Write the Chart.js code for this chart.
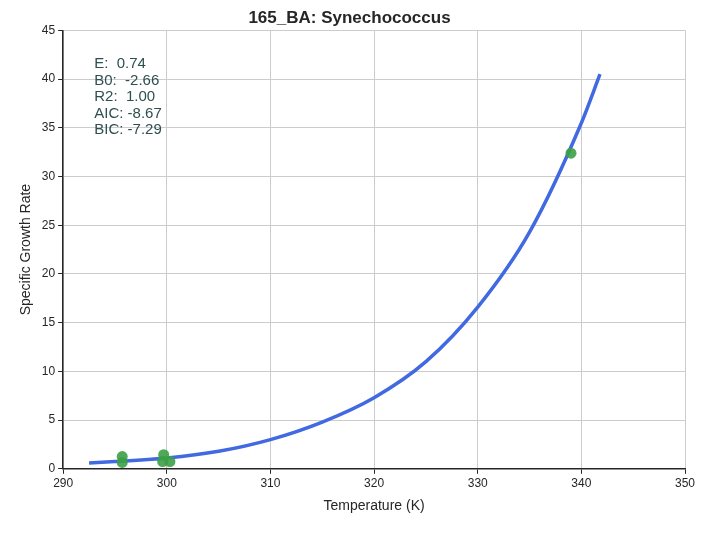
<!DOCTYPE html>
<html><head><script src="https://cdn.jsdelivr.net/npm/chart.js@4"></script>
<style>body{margin:0;background:#fff}#wrap{width:706px;height:533px}</style></head>
<body><div id="wrap"><canvas id="c"></canvas></div>
<script>
var obsTemp = [295.7, 295.7, 299.7, 299.6, 300.3, 339.0];
var obsRate = [1.25, 0.65, 1.45, 0.75, 0.75, 32.4];
var fitTemp = [292.5, 295, 300, 305, 310, 315, 320, 325, 330, 335, 340, 341.8];
var fitRate = [0.6, 0.75, 1.1, 1.8, 3.0, 4.8, 7.3, 11.0, 16.6, 24.3, 35.5, 40.5];
var statsText = ["E:  0.74", "B0:  -2.66", "R2:  1.00", "AIC: -8.67", "BIC: -7.29"];

var statsPlugin = {
    id: "stats",
    afterDraw: function(chart) {
        var ctx = chart.ctx;
        var xs = chart.scales.x, ys = chart.scales.y;
        ctx.save();
        ctx.fillStyle = "#2f4f4f";
        ctx.font = "15px 'Liberation Sans', Arial";
        ctx.textBaseline = "top";
        var x0 = xs.getPixelForValue(293), y0 = ys.getPixelForValue(42.3);
        statsText.forEach(function(t, i) { ctx.fillText(t, x0, y0 + i * 16.5); });
        ctx.restore();
    }
};

new Chart(document.getElementById("c"), {
    type: "scatter",
    data: {
        datasets: [
            {
                type: "line",
                data: fitTemp.map(function(t, i) { return {x: t, y: fitRate[i]}; }),
                borderColor: "#4169e1", borderWidth: 3.5, pointRadius: 0,
                cubicInterpolationMode: "monotone", fill: false, order: 2
            },
            {
                data: obsTemp.map(function(t, i) { return {x: t, y: obsRate[i]}; }),
                backgroundColor: "rgba(60,160,70,0.9)", borderWidth: 0, pointRadius: 5.5, order: 1
            }
        ]
    },
    options: {
        responsive: true, maintainAspectRatio: false, animation: false,
        layout: {padding: {left: 14, right: 21, top: 0, bottom: 14}},
        plugins: {
            legend: {display: false},
            tooltip: {enabled: false},
            title: {display: true, text: "165_BA: Synechococcus", color: "#262626",
                font: {size: 17, weight: "bold", family: "'Liberation Sans', Arial"}, padding: {top: 8, bottom: 2}}
        },
        scales: {
            x: {
                min: 290, max: 350,
                ticks: {stepSize: 10, color: "#262626", font: {size: 12, family: "'Liberation Sans', Arial"}},
                grid: {color: "#cccccc", drawTicks: true, tickColor: "#262626", tickLength: 5},
                border: {color: "#262626", width: 1.5},
                title: {display: true, text: "Temperature (K)", color: "#262626", font: {size: 14, family: "'Liberation Sans', Arial"}}
            },
            y: {
                min: 0, max: 45,
                ticks: {stepSize: 5, color: "#262626", font: {size: 12, family: "'Liberation Sans', Arial"}},
                grid: {color: "#cccccc", tickColor: "#262626", tickLength: 5},
                border: {color: "#262626", width: 1.5},
                title: {display: true, text: "Specific Growth Rate", color: "#262626", font: {size: 14, family: "'Liberation Sans', Arial"}}
            }
        }
    },
    plugins: [statsPlugin]
});
</script></body></html>
